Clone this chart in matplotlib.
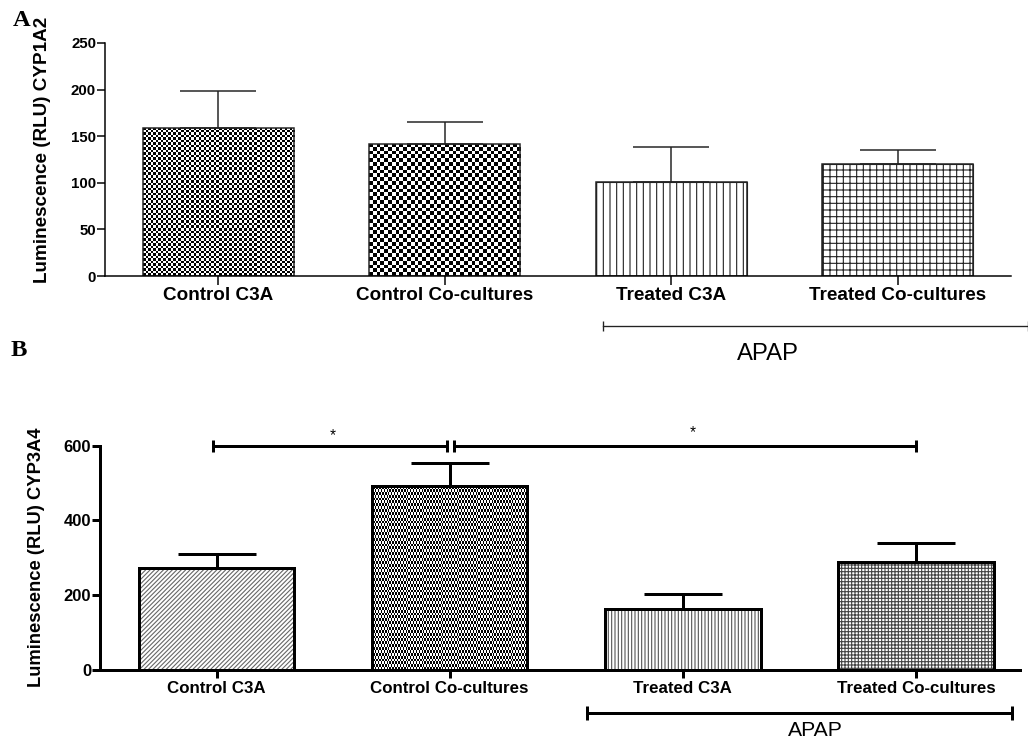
import numpy as np
import matplotlib
matplotlib.use('Agg')
import matplotlib.pyplot as plt

plt.rcParams['font.family'] = ['Liberation Sans', 'DejaVu Sans']
plt.rcParams['hatch.linewidth'] = 1.0

groups = ['Control C3A', 'Control Co-cultures', 'Treated C3A', 'Treated Co-cultures']

# panel A - CYP1A2
cyp1a2_mean = [159, 142, 101, 120]
cyp1a2_sem = [39.5, 23, 37, 15]

# panel B - CYP3A4
cyp3a4_mean = [272, 492, 162, 289]
cyp3a4_sem = [37, 62, 42, 50]

DPI = 80
fig = plt.figure(figsize=(1028 / DPI, 742 / DPI), dpi=DPI)
x = np.arange(len(groups))
bw = 0.667


def checker(ax, bar, cell, lo=0.0, hi=1.0):
    # checker texture clipped to a bar
    x0 = bar.get_x()
    x1 = x0 + bar.get_width()
    h = bar.get_height()
    p0 = ax.transData.transform((x0, 0))
    p1 = ax.transData.transform((x1, h))
    nx = max(1, int(round((p1[0] - p0[0]) / cell)))
    ny = max(1, int(round((p1[1] - p0[1]) / cell)))
    yy, xx = np.indices((ny, nx))
    pat = ((xx + yy) % 2) * (hi - lo) + lo
    im = ax.imshow(pat, cmap='gray', vmin=0, vmax=1, extent=(x0, x1, 0, h),
                   aspect='auto', interpolation='nearest', zorder=1)
    im.set_clip_path(bar)


def style_axes(ax, lw, ticklen):
    ax.spines['top'].set_visible(False)
    ax.spines['right'].set_visible(False)
    ax.spines['left'].set_linewidth(lw)
    ax.spines['bottom'].set_linewidth(lw)
    ax.tick_params(axis='both', direction='out', length=ticklen, width=lw, pad=1)


# ---------------- A ----------------
axA = fig.add_axes([105 / 1028, 1 - 276 / 742, 906 / 1028, 233 / 742])
axA.set_xlim(-0.5, 3.5)
axA.set_ylim(0, 250)
lwA = 1.35
barsA = axA.bar(x, cyp1a2_mean, bw, color='white', edgecolor='none', zorder=1)
checker(axA, barsA[0], 2.5)
checker(axA, barsA[1], 3.75)
barsA[2].set_hatch('||')
barsA[2].set_edgecolor('#222222')
barsA[3].set_hatch('++')
barsA[3].set_edgecolor('#222222')
axA.bar(x, cyp1a2_mean, bw, facecolor='none', edgecolor='#222222', linewidth=lwA, zorder=2)
axA.errorbar(x, cyp1a2_mean, yerr=[np.zeros(4), cyp1a2_sem], fmt='none', ecolor='#222222',
             elinewidth=lwA, capsize=34.5, capthick=lwA, zorder=3)
axA.set_xlim(-0.5, 3.5)
axA.set_ylim(0, 250)
style_axes(axA, lwA, 7)
axA.tick_params(axis='x', length=8, pad=2)
axA.set_yticks([0, 50, 100, 150, 200, 250])
axA.set_xticks(x)
axA.set_xticklabels(groups, fontsize=17, fontweight='bold')
for t in axA.get_yticklabels():
    t.set_fontsize(13.5)
    t.set_fontweight('bold')
axA.set_ylabel('Luminescence (RLU) CYP1A2', fontsize=17, fontweight='bold')
axA.yaxis.set_label_coords(-0.06, 0.54)
axA.plot([1.70, 3.575], [-53.6, -53.6], color='#222222', lw=1.2, marker='|',
         markersize=9, mew=1.2, clip_on=False)
axA.text(2.426, -84, 'APAP', fontsize=21.5, ha='center', va='center')

# ---------------- B ----------------
axB = fig.add_axes([100 / 1028, 1 - 669.7 / 742, 920 / 1028, 224 / 742])
lwB = 2.7
barsB = axB.bar(x, cyp3a4_mean, bw, color='white', edgecolor='none', zorder=1)
barsB[0].set_hatch('//////')
barsB[0].set_edgecolor('#666666')
checker(axB, barsB[1], 3.0)
barsB[2].set_hatch('||||')
barsB[2].set_edgecolor('#555555')
barsB[3].set_hatch('++++')
barsB[3].set_edgecolor('#444444')
axB.bar(x, cyp3a4_mean, bw, facecolor='none', edgecolor='black', linewidth=lwB, zorder=2)
axB.errorbar(x, cyp3a4_mean, yerr=[np.zeros(4), cyp3a4_sem], fmt='none', ecolor='black',
             elinewidth=lwB, capsize=35.5, capthick=lwB, zorder=3)
axB.set_xlim(-0.5, 3.446)
axB.set_ylim(0, 600)
style_axes(axB, lwB, 7)
axB.tick_params(axis='x', length=7, pad=3)
axB.set_yticks([0, 200, 400, 600])
axB.set_xticks(x)
axB.set_xticklabels(groups, fontsize=15.2, fontweight='bold')
for t in axB.get_yticklabels():
    t.set_fontsize(15)
    t.set_fontweight('bold')
axB.set_ylabel('Luminescence (RLU) CYP3A4', fontsize=16.5, fontweight='semibold')
axB.yaxis.set_label_coords(-0.06, 0.5)

# significance bars
axB.plot([-0.015, 0.99], [600, 600], color='black', lw=lwB, marker='|',
         markersize=11, mew=lwB, clip_on=False, zorder=4)
axB.plot([1.02, 3.0], [600, 600], color='black', lw=lwB, marker='|',
         markersize=11, mew=lwB, clip_on=False, zorder=4)
axB.text(0.498, 628, '*', fontsize=14, ha='center', va='center')
axB.text(2.04, 636, '*', fontsize=14, ha='center', va='center')

axB.plot([1.588, 3.412], [-116, -116], color='black', lw=lwB, marker='|',
         markersize=12, mew=lwB, clip_on=False)
axB.text(2.567, -163, 'APAP', fontsize=19, ha='center', va='center')

# panel letters
fig.text(22 / 1028, 1 - 21 / 742, 'A', fontsize=22, fontweight='bold',
         family='Liberation Serif', ha='center', va='center')
fig.text(19 / 1028, 1 - 351 / 742, 'B', fontsize=22, fontweight='bold',
         family='Liberation Serif', ha='center', va='center')

fig.savefig('out.png', dpi=DPI)
